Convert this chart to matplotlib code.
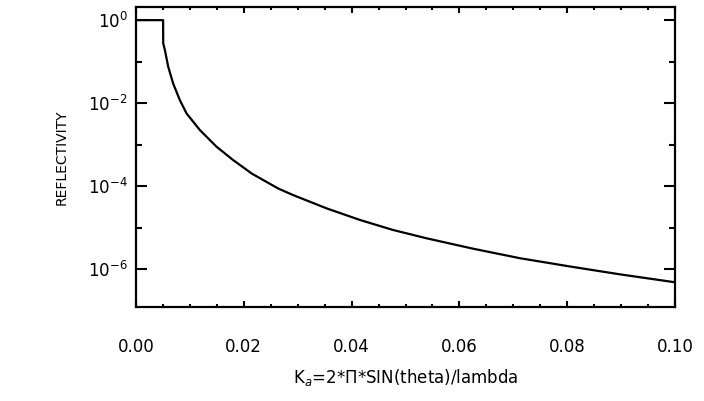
import numpy as np
import matplotlib
matplotlib.use("Agg")
import matplotlib.pyplot as plt
from matplotlib.ticker import FixedLocator, MultipleLocator

# values
q = [0.0, 0.00505, 0.00507, 0.00538, 0.0060, 0.00692, 0.00816, 0.0094,
     0.01187, 0.01494, 0.0180, 0.0215, 0.0264, 0.0292, 0.0354, 0.0416,
     0.0477, 0.0539, 0.0625, 0.0712, 0.0805, 0.0898, 0.0994, 0.1]
log_r = [0.0, 0.0, -0.56, -0.72, -1.125, -1.53, -1.93, -2.25,
         -2.65, -3.05, -3.37, -3.70, -4.06, -4.22, -4.54, -4.82,
         -5.06, -5.26, -5.51, -5.74, -5.94, -6.13, -6.31, -6.32]
refl = [10.0 ** v for v in log_r]

xticks = [0.00, 0.02, 0.04, 0.06, 0.08, 0.10]
xticklabels = ['0.00', '0.02', '0.04', '0.06', '0.08', '0.10']
yticks = [1e0, 1e-2, 1e-4, 1e-6]
yticklabels = [r'$10^{0}$', r'$10^{-2}$', r'$10^{-4}$', r'$10^{-6}$']

fig = plt.figure(figsize=(7.04, 4.01), dpi=100)
ax = fig.add_axes([0.193, 0.234, 0.766, 0.748])

ax.plot(q, refl, color='black', lw=1.6)
ax.set_yscale('log')
ax.set_xlim(0, 0.1)
ax.set_ylim(1.2e-7, 2.05)

ax.set_xticks(xticks)
ax.set_xticklabels(xticklabels, fontsize=12)
ax.xaxis.set_minor_locator(MultipleLocator(0.005))
ax.yaxis.set_major_locator(FixedLocator(yticks))
ax.set_yticklabels(yticklabels, fontsize=12)
ax.yaxis.set_minor_locator(FixedLocator([1e-1, 1e-3, 1e-5, 1e-7]))
ax.yaxis.set_minor_formatter(plt.NullFormatter())

ax.tick_params(axis='x', which='major', direction='in', length=4, width=1.5,
               top=True, pad=22)
ax.tick_params(axis='x', which='minor', direction='in', length=2.5, width=1.5,
               top=True)
ax.tick_params(axis='y', which='major', direction='in', length=8, width=1.5,
               right=True, pad=6)
ax.tick_params(axis='y', which='minor', direction='in', length=4, width=1.5,
               right=True)
for s in ax.spines.values():
    s.set_linewidth(1.6)

ax.set_xlabel(r'K$_a$=2*Π*SIN(theta)/lambda', fontsize=12, labelpad=8)
ax.set_ylabel('REFLECTIVITY', fontsize=10, labelpad=14)

fig.savefig('out.png', dpi=100)
